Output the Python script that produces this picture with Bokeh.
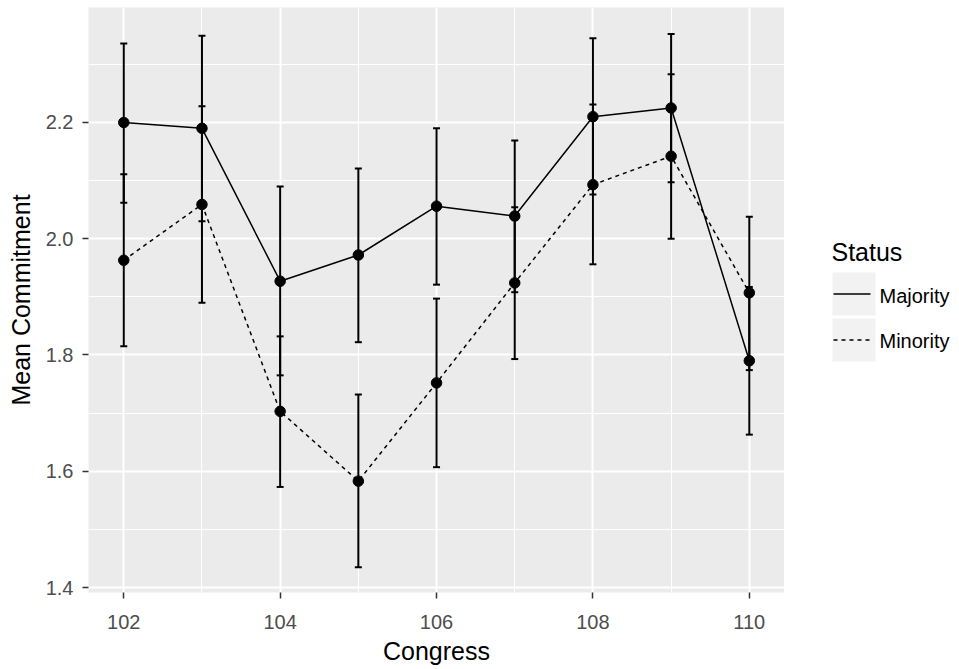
from bokeh.plotting import figure
from bokeh.layouts import row
from bokeh.models import (ColumnDataSource, Range1d, FixedTicker, NumeralTickFormatter,
                          Whisker, TeeHead)
from bokeh.core.properties import value
from bokeh.embed import file_html
from bokeh.resources import INLINE

# ---- data ----
congress = [102, 103, 104, 105, 106, 107, 108, 109, 110]
majority_mean = [2.200, 2.190, 1.927, 1.972, 2.056, 2.039, 2.210, 2.225, 1.790]
majority_lower = [2.062, 2.030, 1.765, 1.822, 1.921, 1.908, 2.076, 2.097, 1.663]
majority_upper = [2.336, 2.349, 2.090, 2.121, 2.190, 2.169, 2.345, 2.352, 1.917]
minority_mean = [1.963, 2.059, 1.703, 1.583, 1.752, 1.924, 2.093, 2.142, 1.907]
minority_lower = [1.815, 1.890, 1.573, 1.435, 1.607, 1.793, 1.956, 2.000, 1.774]
minority_upper = [2.111, 2.228, 1.832, 1.732, 1.897, 2.054, 2.231, 2.283, 2.038]

x_ticks = [102, 104, 106, 108, 110]
x_minor = [103, 105, 107, 109]
y_ticks = [1.4, 1.6, 1.8, 2.0, 2.2]
y_minor = [1.3, 1.5, 1.7, 1.9, 2.1, 2.3]

series_labels = ["Majority", "Minority"]
legend_title = "Status"

FONT = "Liberation Sans"

maj = ColumnDataSource(dict(x=congress, mean=majority_mean, lower=majority_lower, upper=majority_upper))
mino = ColumnDataSource(dict(x=congress, mean=minority_mean, lower=minority_lower, upper=minority_upper))

p = figure(width=784, height=669, output_backend="svg", toolbar_location=None,
           x_range=Range1d(101.549, 110.45), y_range=Range1d(1.3914, 2.3978),
           min_border_left=88, min_border_right=0, min_border_top=7, min_border_bottom=77,
           background_fill_color="#EBEBEB", border_fill_color="white",
           outline_line_color=None)

# grids
for g in (p.xgrid, p.ygrid):
    g.grid_line_color = "white"
    g.grid_line_width = 2
    g.minor_grid_line_color = "white"
    g.minor_grid_line_width = 1

p.xaxis.ticker = FixedTicker(ticks=x_ticks, minor_ticks=x_minor)
p.yaxis.ticker = FixedTicker(ticks=y_ticks, minor_ticks=y_minor)
p.xaxis.formatter = NumeralTickFormatter(format="0")
p.yaxis.formatter = NumeralTickFormatter(format="0.0")

for ax in (p.xaxis, p.yaxis):
    ax.axis_line_color = None
    ax.major_tick_line_color = "#333333"
    ax.major_tick_line_width = 1.5
    ax.major_tick_out = 6
    ax.major_tick_in = 0
    ax.minor_tick_out = 0
    ax.minor_tick_in = 0
    ax.minor_tick_line_color = None
    ax.major_label_text_font = FONT
    ax.major_label_text_font_size = "20px"
    ax.major_label_text_color = "#4D4D4D"
    ax.axis_label_text_font = FONT
    ax.axis_label_text_font_size = "25px"
    ax.axis_label_text_font_style = "normal"
    ax.axis_label_text_color = "black"

p.xaxis.axis_label = "Congress"
p.yaxis.axis_label = "Mean Commitment"
p.xaxis.major_label_standoff = 16
p.xaxis.axis_label_standoff = 5
p.yaxis.major_label_standoff = 9
p.yaxis.axis_label_standoff = 8

# lines
p.line("x", "mean", source=maj, line_color="black", line_width=1.5)
p.line("x", "mean", source=mino, line_color="black", line_width=1.5, line_dash="4 4")

# error bars
for src in (maj, mino):
    w = Whisker(source=src, base="x", upper="upper", lower="lower", dimension="height",
                line_color="black", line_width=2,
                upper_head=TeeHead(size=7, line_color="black", line_width=2),
                lower_head=TeeHead(size=7, line_color="black", line_width=2))
    p.add_layout(w)

# points
p.scatter("x", "mean", source=maj, size=10.5, color="black")
p.scatter("x", "mean", source=mino, size=10.5, color="black")

# ---- legend panel (separate figure, pixel-like coordinates matching the plot frame) ----
lg = figure(width=175, height=669, output_backend="svg", toolbar_location=None,
            x_range=Range1d(0, 175), y_range=Range1d(592, 7),
            x_axis_type=None, y_axis_type=None,
            min_border_left=0, min_border_right=0, min_border_top=7, min_border_bottom=77,
            background_fill_color="white", border_fill_color="white",
            outline_line_color=None)
lg.grid.visible = False

key_cx = 69.5
key_cy = [293.5, 339.5]
key_size = 43
lg.rect(x=[key_cx, key_cx], y=key_cy, width=key_size, height=key_size,
        fill_color="#F2F2F2", line_color=None)
lg.line(x=[49, 86], y=[key_cy[0], key_cy[0]], line_color="black", line_width=1.5)
lg.line(x=[49, 86], y=[key_cy[1], key_cy[1]], line_color="black", line_width=1.5,
        line_dash="4 4")
lg.text(x=[95, 95], y=[key_cy[0] + 1.5, key_cy[1] + 0.5], text=series_labels,
        text_font=value(FONT), text_font_size="20px", text_color="black",
        text_align="left", text_baseline="alphabetic")
lg.text(x=[47], y=[251], text=[legend_title],
        text_font=value(FONT), text_font_size="25px", text_color="black",
        text_align="left", text_baseline="alphabetic")

layout = row(p, lg)
layout.spacing = 0

open("out.html", "w").write(file_html(layout, INLINE))
